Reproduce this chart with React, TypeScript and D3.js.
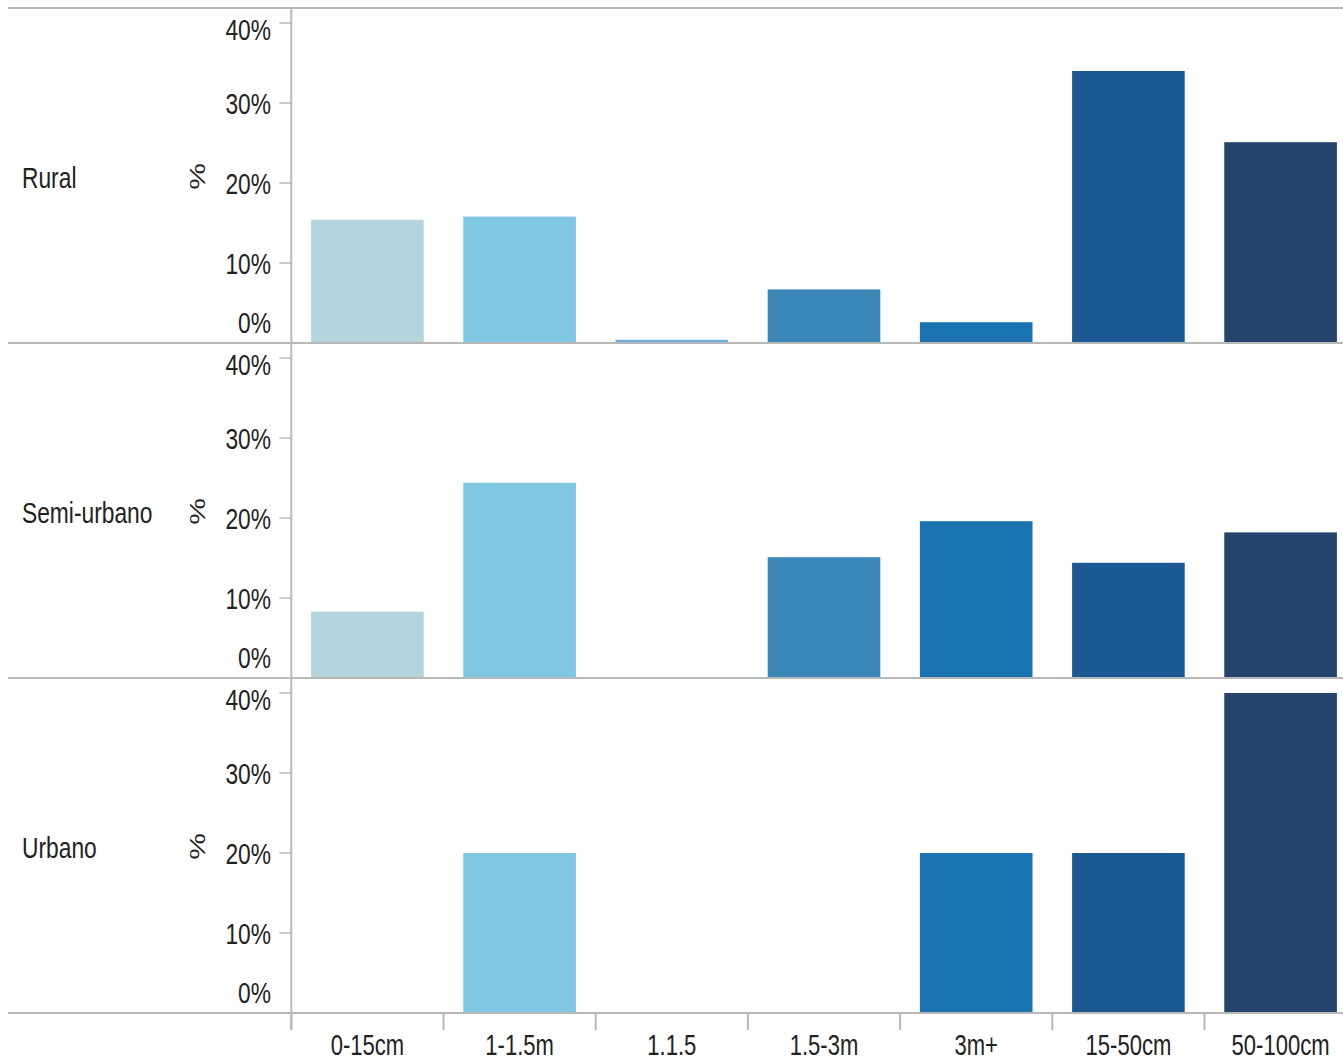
import React from "react";
import * as d3 from "d3";

const categories = ["0-15cm", "1-1.5m", "1.1.5", "1.5-3m", "3m+", "15-50cm", "50-100cm"];
const rows = ["Rural", "Semi-urbano", "Urbano"];
const ruralValues = [15.4, 15.8, 0.4, 6.7, 2.6, 34.0, 25.1];
const semiUrbanoValues = [8.3, 24.4, 0, 15.1, 19.6, 14.4, 18.2];
const urbanoValues = [0, 20, 0, 0, 20, 20, 40];
const yTicks = [0, 10, 20, 30, 40];
const colors = ["#b6d4db", "#7fc7e3", "#6db0d8", "#3b87b7", "#1c73b1", "#1c5894", "#25456c"];

const W = 1343;
const H = 1063;
const left = 8;
const top = 8;
const axisX = 291.3;
const panelH = 335;
const step = 152.2;
const SX = 0.76;
const FS = 30;
const FONT = "Arial, 'Liberation Sans', sans-serif";
const GRID = "#b8b8b8";

export default function App() {
  const seriesValues = [ruralValues, semiUrbanoValues, urbanoValues];
  const x = d3
    .scaleBand<string>()
    .domain(categories)
    .range([axisX, axisX + step * categories.length])
    .paddingInner(0.26)
    .paddingOuter(0.13);
  const y = d3.scaleLinear().domain([0, panelH / 8]).range([panelH, 0]);
  const fmt = (v: number) => `${v}%`;
  const bottom = top + panelH * rows.length;

  const T = (props: { x: number; y: number; anchor?: string; rotate?: boolean; size?: number; children: React.ReactNode }) => (
    <g transform={`translate(${props.x},${props.y}) scale(${SX},1)${props.rotate ? " rotate(-90)" : ""}`}>
      <text
        x={0}
        y={0}
        textAnchor={props.anchor || "start"}
        fontFamily={FONT}
        fontSize={props.size || FS}
        fill="#222"
      >
        {props.children}
      </text>
    </g>
  );

  return (
    <svg
      width={W}
      height={H}
      style={{ position: "absolute", left: 0, top: 0, display: "block", background: "#fff" }}
    >
      {rows.map((row, ri) => {
        const py = top + ri * panelH;
        const vals = seriesValues[ri];
        return (
          <g key={row}>
            {vals.map((v, ci) =>
              v > 0 ? (
                <rect
                  key={ci}
                  x={x(categories[ci])}
                  y={py + y(v)}
                  width={x.bandwidth()}
                  height={y(0) - y(v)}
                  fill={colors[ci]}
                />
              ) : null
            )}
            {yTicks.map((t) => {
              const ty = py + y(t);
              const capH = 22;
              const cy = Math.min(Math.max(ty, py + 10 + capH / 2), py + panelH - 10 - capH / 2);
              return (
                <g key={t}>
                  <line x1={axisX - 12} x2={axisX} y1={ty} y2={ty} stroke={GRID} strokeWidth={1.5} />
                  <T x={271} y={cy + capH / 2} anchor="end">
                    {fmt(t)}
                  </T>
                </g>
              );
            })}
            <T x={22} y={py + panelH / 2 + 12}>
              {row}
            </T>
            <T x={205} y={py + panelH / 2 + 1} anchor="middle" rotate>
              %
            </T>
          </g>
        );
      })}
      {/* horizontal separators */}
      {d3.range(rows.length + 1).map((i) => (
        <line
          key={i}
          x1={left}
          x2={W}
          y1={top + i * panelH}
          y2={top + i * panelH}
          stroke={GRID}
          strokeWidth={2}
        />
      ))}
      {/* vertical axis line */}
      <line x1={axisX} x2={axisX} y1={top} y2={bottom + 17} stroke={GRID} strokeWidth={2} />
      {/* x ticks at band boundaries */}
      {categories.map((c, i) => (
        <line
          key={c}
          x1={axisX + i * step}
          x2={axisX + i * step}
          y1={bottom}
          y2={bottom + 17}
          stroke={GRID}
          strokeWidth={2}
        />
      ))}
      {categories.map((c) => (
        <T key={c} x={(x(c) as number) + x.bandwidth() / 2} y={bottom + 42} anchor="middle" size={29}>
          {c}
        </T>
      ))}
    </svg>
  );
}
